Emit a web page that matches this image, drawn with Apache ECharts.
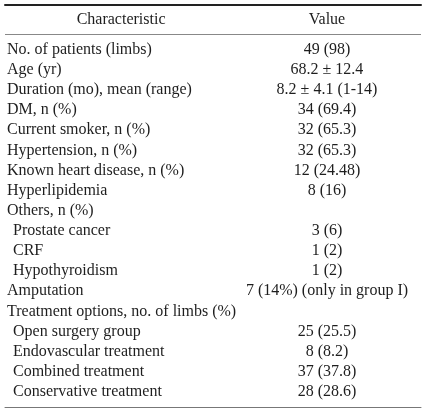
<!DOCTYPE html>
<html><head><meta charset="utf-8">
<script src="https://cdn.jsdelivr.net/npm/echarts@6/dist/echarts.min.js"></script>
<style>html,body{margin:0;padding:0;background:#fff}#c{width:426px;height:414px}</style>
</head><body><div id="c"></div>
<script>
const headers = ['Characteristic', 'Value'];
const characteristics = [
  'No. of patients (limbs)', 'Age (yr)', 'Duration (mo), mean (range)', 'DM, n (%)',
  'Current smoker, n (%)', 'Hypertension, n (%)', 'Known heart disease, n (%)', 'Hyperlipidemia',
  'Others, n (%)', 'Prostate cancer', 'CRF', 'Hypothyroidism', 'Amputation',
  'Treatment options, no. of limbs (%)', 'Open surgery group', 'Endovascular treatment',
  'Combined treatment', 'Conservative treatment'
];
const subItem = [0,0,0,0,0,0,0,0,0,1,1,1,0,0,1,1,1,1];
const values = [
  '49 (98)', '68.2 ± 12.4', '8.2 ± 4.1 (1-14)', '34 (69.4)', '32 (65.3)', '32 (65.3)',
  '12 (24.48)', '8 (16)', '', '3 (6)', '1 (2)', '1 (2)', '7 (14%) (only in group I)', '',
  '25 (25.5)', '8 (8.2)', '37 (37.8)', '28 (28.6)'
];

const FONT = '16px "Liberation Serif", "Times New Roman", serif';
const TEXT = '#1e1e1e';
const HEADER_ROW = -1.5;
const HEADER_LINE = -0.78;
const COL_A = 0.279, COL_B = 0.774;

const chart = echarts.init(document.getElementById('c'), null, {renderer: 'canvas'});
chart.setOption({
  animation: false,
  backgroundColor: '#fff',
  grid: {left: 5, right: 5, top: 4.5, bottom: 7},
  xAxis: [
    {type: 'value', min: 0, max: 1, position: 'top',
     axisLine: {show: true, onZero: false, lineStyle: {color: '#222', width: 2}},
     axisTick: {show: false}, axisLabel: {show: false}, splitLine: {show: false}},
    {type: 'value', min: 0, max: 1, position: 'bottom',
     axisLine: {show: true, onZero: false, lineStyle: {color: '#777', width: 1}},
     axisTick: {show: false}, axisLabel: {show: false}, splitLine: {show: false}}
  ],
  yAxis: {type: 'value', inverse: true, min: -2.25, max: 17.75, show: false},
  series: [
    {
      type: 'custom', xAxisIndex: 0, clip: false, silent: true,
      data: [[0.5, HEADER_ROW]],
      renderItem(params, api) {
        const a = api.coord([COL_A, HEADER_ROW]);
        const b = api.coord([COL_B, HEADER_ROW]);
        return {type: 'group', children: [
          {type: 'text', x: a[0], y: a[1], style: {text: headers[0], font: FONT, fill: TEXT, align: 'center', verticalAlign: 'middle'}},
          {type: 'text', x: b[0], y: b[1], style: {text: headers[1], font: FONT, fill: TEXT, align: 'center', verticalAlign: 'middle'}}
        ]};
      },
      markLine: {
        silent: true, symbol: 'none', label: {show: false},
        lineStyle: {color: '#888', width: 1, type: 'solid'},
        data: [{yAxis: HEADER_LINE}]
      }
    },
    {
      type: 'custom', xAxisIndex: 0, clip: false, silent: true,
      data: characteristics.map((c, i) => [0.5, i]),
      renderItem(params, api) {
        const i = params.dataIndex;
        const p = api.coord([0, api.value(1)]);
        const v = api.coord([COL_B, api.value(1)]);
        return {type: 'group', children: [
          {type: 'text', x: p[0] + 2 + (subItem[i] ? 6 : 0), y: p[1],
           style: {text: characteristics[i], font: FONT, fill: TEXT, align: 'left', verticalAlign: 'middle'}},
          {type: 'text', x: v[0], y: v[1],
           style: {text: values[i], font: FONT, fill: TEXT, align: 'center', verticalAlign: 'middle'}}
        ]};
      }
    }
  ]
});
</script></body></html>
